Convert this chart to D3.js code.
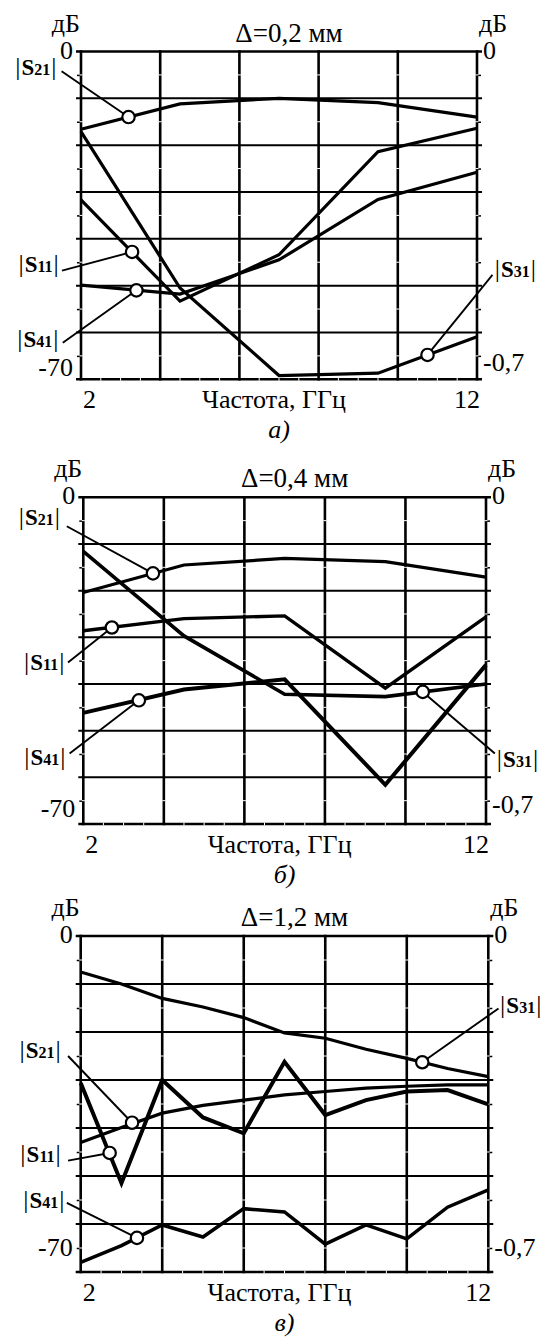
<!DOCTYPE html>
<html>
<head>
<meta charset="utf-8">
<script src="https://cdn.jsdelivr.net/npm/d3@7"></script>
<style>
  body { margin: 0; background: #fff; }
  svg { display: block; }
  text { font-family: "Liberation Serif", "Times New Roman", Times, serif; }
</style>
</head>
<body>
<svg id="chart" width="544" height="1338"></svg>
<script>
// ---- data (dB values) ----
const freqAB = [2, 4.5, 7, 9.5, 12];
const freqC = [2, 3, 4, 5, 6, 7, 8, 9, 10, 11, 12];

// a) Δ=0,2 мм
const aS21 = [-16.6, -11.2, -10.0, -10.9, -14.0];
const aS31 = [-17.1, -50.5, -69.2, -68.7, -60.9];
const aS11 = [-31.7, -53.3, -43.4, -21.4, -16.4];
const aS41 = [-49.9, -51.8, -44.5, -31.6, -25.8];

// б) Δ=0,4 мм
const bS21 = [-20.4, -14.5, -13.1, -13.8, -17.1];
const bS11 = [-28.6, -26.0, -25.4, -40.9, -25.6];
const bS41 = [-46.2, -41.2, -39.0, -61.6, -35.9];
const bS31 = [-11.6, -29.7, -42.2, -42.7, -40.0];

// в) Δ=1,2 мм
const cS31 = [-7.5, -10.0, -13.0, -14.8, -17.0, -20.2, -21.3, -23.6, -25.5, -27.6, -29.3];
const cS11 = [-30.6, -51.5, -30.0, -37.8, -41.1, -26.2, -37.3, -34.2, -32.4, -32.1, -35.1];
const cS21 = [-43.0, -39.9, -36.9, -35.3, -34.2, -33.1, -32.4, -31.7, -31.3, -31.0, -31.0];
const cS41 = [-68.0, -64.5, -60.2, -62.7, -56.8, -57.5, -64.2, -60.2, -63.1, -56.5, -52.9];

// marker circles on the curves [GHz, dB]
const aMarks = { S21: [3.2, -14.0], S11: [3.29, -42.8], S41: [3.4, -51.0], S31: [10.75, -64.8] };
const bMarks = { S21: [3.73, -16.3], S11: [2.71, -27.9], S41: [3.38, -43.5], S31: [10.43, -41.7] };
const cMarks = { S31: [10.38, -26.3], S21: [3.26, -38.9], S11: [2.71, -45.2], S41: [3.38, -62.9] };

const titles = ["Δ=0,2 мм", "Δ=0,4 мм", "Δ=1,2 мм"];
const captions = ["а)", "б)", "в)"];
const leftTicks = ["0", "-70"];
const rightTicks = ["0", "-0,7"];
const xTicks = ["2", "12"];
const xTitle = "Частота, ГГц";
const yUnit = "дБ";

// ---- layout ----
const panels = [
  { l: 81, r: 477, t: 51.5, b: 379.3, freq: freqAB, marks: aMarks, lowL: 3, lowR: 8,
    series: [[aS21, 3.2], [aS31, 3.2], [aS11, 3.2], [aS41, 3.2]],
    // leader end [GHz, dB], label anchor [GHz, dB], side
    callouts: [
      ["S21", [1.51, -4.2], [1.38, -5.0], "L"],
      ["S11", [1.52, -46.8], [1.44, -47.0], "L"],
      ["S41", [1.54, -62.2], [1.43, -63.0], "L"],
      ["S31", [12.39, -47.7], [12.45, -48.2], "R"]
    ] },
  { l: 83.3, r: 486, t: 497.3, b: 824, freq: freqAB, marks: bMarks, lowL: 7, lowR: 11,
    series: [[bS21, 3.2], [bS11, 3.4], [bS41, 4], [bS31, 3.6]],
    callouts: [
      ["S21", [1.59, -6.2], [1.42, -5.9], "L"],
      ["S11", [1.62, -35.4], [1.53, -37.0], "L"],
      ["S41", [1.66, -54.9], [1.56, -57.4], "L"],
      ["S31", [12.22, -54.9], [12.27, -57.7], "R"]
    ] },
  { l: 80.7, r: 488.3, t: 936, b: 1272, freq: freqC, marks: cMarks, lowL: 16, lowR: 16,
    series: [[cS31, 3.2], [cS21, 3.2], [cS11, 4], [cS41, 3.5]],
    callouts: [
      ["S31", [12.25, -15.1], [12.29, -16.0], "R"],
      ["S21", [1.69, -25.0], [1.51, -25.4], "L"],
      ["S11", [1.69, -46.8], [1.51, -47.0], "L"],
      ["S41", [1.66, -55.6], [1.60, -56.7], "L"]
    ] }
];

const svg = d3.select("#chart");
const FS = 26;

panels.forEach((p, i) => {
  const x = d3.scaleLinear().domain([2, 12]).range([p.l, p.r]);
  const y = d3.scaleLinear().domain([0, -70]).range([p.t, p.b]);
  const g = svg.append("g");

  const major = d3.range(0, -71, -10);
  const minor = d3.range(-5, -70, -10);
  const vlines = [2, 4, 6, 8, 10, 12];

  // horizontal grid lines (stick out a little on both sides)
  g.selectAll(".hg").data(major).join("line")
    .attr("x1", p.l - 5).attr("x2", p.r + 5)
    .attr("y1", d => y(d)).attr("y2", d => y(d))
    .attr("stroke", "#000")
    .attr("stroke-width", d => (d === 0 || d === -70) ? 2.6 : 2);

  // vertical grid lines
  g.selectAll(".vg").data(vlines).join("line")
    .attr("x1", d => x(d)).attr("x2", d => x(d))
    .attr("y1", y(0) - 1.3).attr("y2", y(-70) + 1.3)
    .attr("stroke", "#000").attr("stroke-width", 2.6);

  // minor ticks outside
  const minorL = g.append("g").attr("transform", `translate(${p.l},0)`)
    .call(d3.axisLeft(y).tickValues(minor).tickSize(4).tickFormat(""));
  const minorR = g.append("g").attr("transform", `translate(${p.r},0)`)
    .call(d3.axisRight(y).tickValues(minor).tickSize(4).tickFormat(""));
  [minorL, minorR].forEach(a => {
    a.select(".domain").remove();
    a.selectAll("line").attr("stroke", "#000").attr("stroke-width", 1.5);
  });

  // small white marks on the grid lines
  vlines.forEach(v => {
    g.selectAll(null).data(minor).join("line")
      .attr("x1", x(v) - 1.5).attr("x2", x(v) + 1.5)
      .attr("y1", d => y(d)).attr("y2", d => y(d))
      .attr("stroke", "#fff").attr("stroke-width", 1);
  });
  const halfSteps = d3.range(2.5, 12, 0.5).filter(f => f % 2 !== 0);
  g.selectAll(".wm").data(halfSteps).join("line")
    .attr("x1", d => x(d)).attr("x2", d => x(d))
    .attr("y1", y(-70) - 1.5).attr("y2", y(-70) + 1.5)
    .attr("stroke", "#fff").attr("stroke-width", 1);

  // curves
  const line = d3.line().x((d, k) => x(p.freq[k])).y(d => y(d));
  p.series.forEach(([vals, w]) => {
    g.append("path").datum(vals)
      .attr("d", line)
      .attr("fill", "none").attr("stroke", "#000")
      .attr("stroke-width", w)
      .attr("stroke-linejoin", "miter").attr("stroke-miterlimit", 6);
  });

  // callouts: leader line, circle, label
  p.callouts.forEach(([name, lead, lab, side]) => {
    const m = p.marks[name];
    g.append("line")
      .attr("x1", x(lead[0])).attr("y1", y(lead[1]))
      .attr("x2", x(m[0])).attr("y2", y(m[1]))
      .attr("stroke", "#000").attr("stroke-width", 1.9);
    g.append("circle")
      .attr("cx", x(m[0])).attr("cy", y(m[1])).attr("r", 6.2)
      .attr("fill", "#fff").attr("stroke", "#000").attr("stroke-width", 2.2);
    const t = g.append("text")
      .attr("x", x(lab[0])).attr("y", y(lab[1]))
      .attr("text-anchor", side === "L" ? "end" : "start");
    t.append("tspan").attr("font-size", 26).text("|");
    t.append("tspan").attr("font-size", 23).attr("font-weight", "bold").attr("dx", 1).text("S");
    t.append("tspan").attr("font-size", 16).attr("font-weight", "bold").text(name.slice(1));
    t.append("tspan").attr("font-size", 26).attr("dx", 1).text("|");
  });

  // axis texts
  const txt = (s, tx, ty, anchor) => g.append("text")
    .attr("x", tx).attr("y", ty)
    .attr("text-anchor", anchor).attr("font-size", FS).text(s);
  txt(yUnit, p.l - 1, p.t - 20, "end");
  txt(yUnit, p.r + 2, p.t - 20, "start");
  txt(titles[i], (p.l + p.r) / 2 + 10, p.t - 10, "middle").attr("font-size", 27);
  txt(leftTicks[0], x(2) - 8, y(0) + 7, "end");
  txt(leftTicks[1], x(2) - 8, y(-70) - p.lowL, "end");
  txt(rightTicks[0], x(12) + 6, y(0) + 7, "start");
  txt(rightTicks[1], x(12) + 6, y(-70) - p.lowR, "start");
  txt(xTicks[0], x(2) + 2, p.b + 29, "start");
  txt(xTicks[1], x(12) + 3, p.b + 29, "end");
  txt(xTitle, (p.l + p.r) / 2 - 5, p.b + 29, "middle");
  txt(captions[i], (p.l + p.r) / 2, p.b + 59, "middle").attr("font-style", "italic");
});
</script>
</body>
</html>
